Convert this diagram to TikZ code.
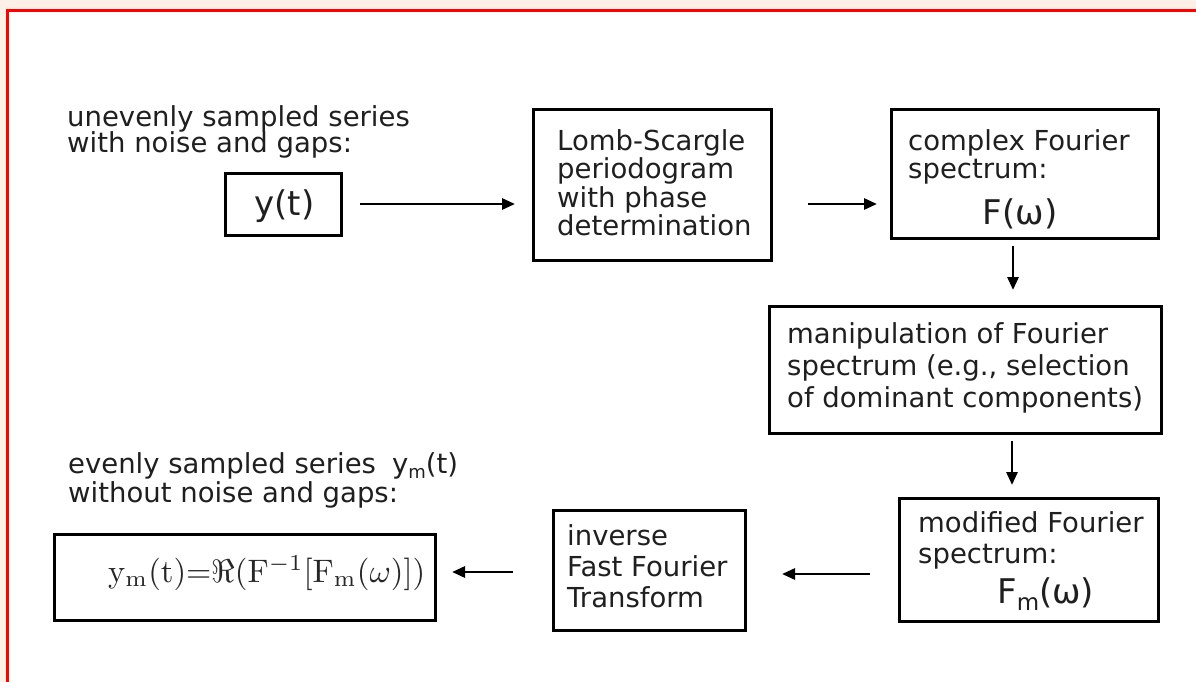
\documentclass[tikz,border=0pt]{standalone}
\usepackage[no-math]{fontspec}
\setmainfont{DejaVu Sans}
\usetikzlibrary{arrows.meta}
\definecolor{peach}{HTML}{FDF0E6}
\begin{document}
\begin{tikzpicture}[x=1pt,y=-1pt,
  box/.style={draw=black, line width=3pt, rectangle, inner sep=0pt},
  lbl/.style={anchor=base west, inner sep=0pt, text=black!88, font=\fontsize{27.5}{27.5}\selectfont},
  big/.style={inner sep=0pt, text=black!88, font=\fontsize{34}{34}\selectfont},
  arr/.style={line width=2.8pt, -{Triangle[length=13pt,width=11pt]}}]
\useasboundingbox (0,0) rectangle (1196,682);
\fill[peach] (0,0) rectangle (1196,682);
\fill[white] (7.5,10.5) rectangle (1196,682);
\draw[red, line width=2.5pt] (7.5,682) -- (7.5,10.5) -- (1196,10.5);

% boxes
\node[box, minimum width=116pt, minimum height=62pt] (b1) at (283.5,204) {};
\node[box, minimum width=238pt, minimum height=151pt] (b2) at (652.5,185) {};
\node[box, minimum width=267pt, minimum height=129pt] (b3) at (1025,174) {};
\node[box, minimum width=392pt, minimum height=127pt] (b4) at (965.5,370) {};
\node[box, minimum width=259pt, minimum height=123pt] (b5) at (1029,560) {};
\node[box, minimum width=192pt, minimum height=120pt] (b6) at (649.5,570.5) {};
\node[box, minimum width=381pt, minimum height=86pt] (b7) at (245,577.5) {};

% free labels
\node[lbl] (l1a) at (67,127) {unevenly sampled series};
\node[lbl] (l1b) at (67,152) {with noise and gaps:};
\node[lbl] (l2a) at (68,473) {evenly sampled series\hspace{16pt}y{\fontsize{18}{18}\selectfont\raisebox{-5pt}{m}}(t)};
\node[lbl] (l2b) at (68,502) {without noise and gaps:};

% box texts
\node[big, anchor=center] (t1) at (284.5,206) {y(t)};

\node[lbl] (t2a) at (557,150) {Lomb-Scargle};
\node[lbl] (t2b) at (557,178) {periodogram};
\node[lbl] (t2c) at (557,207) {with phase};
\node[lbl] (t2d) at (557,235) {determination};

\node[lbl] (t3a) at (908,150) {complex Fourier};
\node[lbl] (t3b) at (908,178) {spectrum:};
\node[big, anchor=base] (t3c) at (1020,224) {F(ω)};

\node[lbl] (t4a) at (787,343) {manipulation of Fourier};
\node[lbl] (t4b) at (787,375) {spectrum (e.g., selection};
\node[lbl] (t4c) at (787,407) {of dominant components)};

\node[lbl] (t5a) at (918,532) {modified Fourier};
\node[lbl] (t5b) at (918,563) {spectrum:};
\node[big, anchor=base west] (t5c) at (997,603) {F{\fontsize{23}{23}\selectfont\raisebox{-7pt}{m}}(ω)};

\node[lbl] (t6a) at (567,545) {inverse};
\node[lbl] (t6b) at (567,576) {Fast Fourier};
\node[lbl] (t6c) at (567,607) {Transform};

\node[inner sep=0pt, text=black!85, anchor=base west] (t7) at (108,582) {\scalebox{3.25}{\fontsize{10}{10}\selectfont$\mathrm{y}_\mathrm{m}(\mathrm{t}){=}\Re(\mathrm{F}^{-1}[\mathrm{F}_\mathrm{m}(\omega)])$}};

% helper lines for connectors
\coordinate (h1) at (0,204);
\coordinate (v3) at (1013,0);
\coordinate (v4) at (1012,0);
\coordinate (h5) at (0,574);
\coordinate (h6) at (0,572);

\draw[arr, shorten <=17pt, shorten >=17pt] (b1.east |- h1) -- (b2.west |- h1);
\draw[arr, shorten <=35pt, shorten >=13pt] (b2.east |- h1) -- (b3.west |- h1);
\draw[arr, shorten <=6pt, shorten >=15pt] (v3 |- b3.south) -- (v3 |- b4.north);
\draw[arr, shorten <=6pt, shorten >=12pt] (v4 |- b4.south) -- (v4 |- b5.north);
\draw[arr, shorten <=28pt, shorten >=35pt] (b5.west |- h5) -- (b6.east |- h5);
\draw[arr, shorten <=39pt, shorten >=15pt] (b6.west |- h6) -- (b7.east |- h6);
\end{tikzpicture}
\end{document}
